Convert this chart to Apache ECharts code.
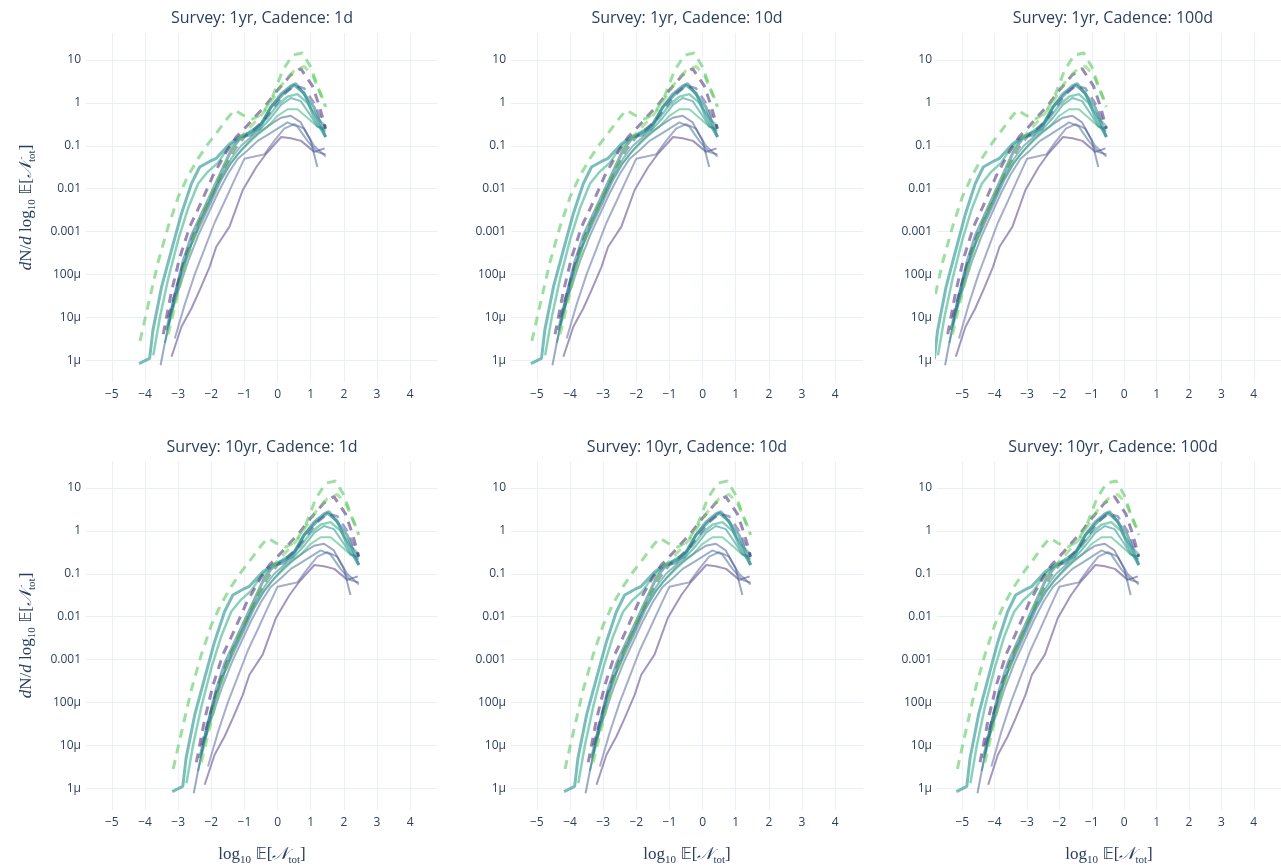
<!DOCTYPE html>
<html><head><meta charset="utf-8">
<script src="https://cdn.jsdelivr.net/npm/echarts@6/dist/echarts.min.js"></script>
<style>html,body{margin:0;padding:0;background:#fff}#c{width:1281px;height:868px}</style>
</head><body><div id="c"></div>
<script>
// ---- panel info ----
const panelTitles = ['Survey: 1yr, Cadence: 1d','Survey: 1yr, Cadence: 10d','Survey: 1yr, Cadence: 100d',
                     'Survey: 10yr, Cadence: 1d','Survey: 10yr, Cadence: 10d','Survey: 10yr, Cadence: 100d'];
// horizontal shift (in log10 E[N_tot]) of the curve family in each panel
const panelShift = [0, -1, -2, 1, 0, -1];
const xTicks = [-5,-4,-3,-2,-1,0,1,2,3,4];
const xTickLabels = ['\u22125','\u22124','\u22123','\u22122','\u22121','0','1','2','3','4'];
const yTicks = [-6,-5,-4,-3,-2,-1,0,1]; // log10 positions
const yTickLabels = ['1\u00b5','10\u00b5','100\u00b5','0.001','0.01','0.1','1','10'];

// ---- curves (x = log10 E[N_tot] in the 1yr/1d panel, v = dN/dlog10 E[N_tot]) ----
const c1x = [-4.15,-3.9,-3.6,-3.3,-3.0,-2.7,-2.4,-2.1,-1.8,-1.5,-1.3,-1.05,-0.75,-0.45,-0.15,0.15,0.45,0.75,1.0,1.2,1.45];
const c1v = [2.8e-6,2.0e-5,2.0e-4,1.3e-3,6.3e-3,0.02,0.05,0.11,0.22,0.45,0.68,0.52,0.42,0.56,1.4,5.6,13,14.5,6.9,2.5,0.8];
const c2x = [-3.3,-3.05,-2.8,-2.5,-2.2,-1.9,-1.6,-1.3,-1.0,-0.7,-0.4,-0.1,0.2,0.5,0.8,1.05,1.25,1.45];
const c2v = [4.0e-6,2.5e-5,1.6e-4,7.9e-4,3.2e-3,0.011,0.035,0.1,0.2,0.35,0.63,1.4,3.2,5.6,7.1,4.5,2.0,0.89];
const c3x = [-3.45,-3.2,-2.95,-2.65,-2.35,-1.95,-1.55,-1.25,-1.0,-0.65,-0.35,0,0.4,0.7,1.05,1.27,1.45];
const c3v = [4.0e-6,4.0e-5,2.5e-4,1.3e-3,4.0e-3,0.02,0.071,0.16,0.25,0.5,0.89,2.0,4.5,6.3,2.5,0.8,0.25];
const c4x = [-3.3,-3.05,-2.8,-2.5,-2.2,-1.9,-1.6,-1.3,-1.0,-0.7,-0.4,-0.1,0.2,0.5,0.8,1.1,1.45];
const c4v = [1.0e-5,5.0e-5,2.5e-4,1.0e-3,3.2e-3,0.01,0.032,0.079,0.16,0.25,0.4,0.8,1.6,2.5,2.2,1.0,0.25];
const c5x = [-4.18,-3.86,-3.76,-3.5,-3.2,-2.9,-2.6,-2.35,-2.05,-1.85,-1.45,-1.15,-0.85,-0.55,-0.2,0.2,0.5,0.8,1.1,1.45];
const c5v = [8.3e-7,1.1e-6,5.0e-6,5.1e-5,3.7e-4,2.6e-3,0.013,0.032,0.043,0.051,0.11,0.16,0.2,0.25,0.8,1.7,2.6,1.7,0.48,0.16];
const c6x = [-3.75,-3.55,-3.3,-3.0,-2.7,-2.4,-2.1,-1.8,-1.5,-1.2,-0.9,-0.6,-0.3,0,0.3,0.6,0.9,1.2,1.45];
const c6v = [1.3e-6,1.0e-5,7.9e-5,6.3e-4,3.5e-3,0.013,0.025,0.04,0.089,0.14,0.2,0.28,0.45,0.89,1.4,1.6,1.0,0.45,0.28];
const c7x = [-3.35,-3.1,-2.85,-2.6,-2.3,-2.0,-1.7,-1.4,-1.1,-0.8,-0.5,-0.2,0.1,0.4,0.55,0.8,1.1,1.45];
const c7v = [5.0e-6,3.2e-5,2.0e-4,7.9e-4,2.5e-3,7.9e-3,0.025,0.079,0.16,0.18,0.32,0.8,1.6,2.5,2.8,1.6,0.8,0.16];
const c8x = [-3.53,-3.35,-3.15,-2.9,-2.6,-2.3,-2.0,-1.7,-1.4,-1.1,-0.8,-0.5,-0.2,0.1,0.4,0.7,1.0,1.2];
const c8v = [7.6e-7,4.0e-6,2.5e-5,1.3e-4,5.0e-4,1.6e-3,5.0e-3,0.016,0.04,0.079,0.14,0.22,0.32,0.45,0.5,0.35,0.13,0.032];
const c9x = [-3.4,-3.15,-2.9,-2.6,-2.3,-2.0,-1.7,-1.4,-1.1,-0.8,-0.5,-0.2,0.1,0.4,0.7,1.0,1.2,1.45];
const c9v = [2.5e-6,1.6e-5,1.0e-4,5.0e-4,2.0e-3,6.3e-3,0.02,0.05,0.1,0.16,0.25,0.45,0.89,1.3,1.1,0.5,0.28,0.25];
const c10x = [-3.3,-3.0,-2.7,-2.4,-2.1,-1.8,-1.5,-1.2,-0.9,-0.6,-0.3,0,0.3,0.6,0.9,1.2,1.45];
const c10v = [6.3e-6,5.0e-5,3.2e-4,1.3e-3,4.0e-3,0.013,0.032,0.063,0.11,0.18,0.28,0.5,0.71,0.71,0.45,0.28,0.22];
const c11x = [-3.25,-3.0,-2.7,-2.4,-2.1,-1.8,-1.5,-1.2,-0.9,-0.6,-0.3,0,0.3,0.6,0.9,1.2,1.45];
const c11v = [1.0e-5,4.0e-5,2.0e-4,7.9e-4,2.5e-3,7.9e-3,0.022,0.05,0.079,0.13,0.18,0.25,0.35,0.28,0.13,0.071,0.063];
const c12x = [-3.2,-2.9,-2.6,-2.35,-2.05,-1.85,-1.45,-1.05,-0.64,-0.34,0.11,0.4,0.71,1.11,1.42];
const c12v = [1.2e-6,6.0e-6,1.6e-5,4.3e-5,1.5e-4,4.4e-4,1.3e-3,9.3e-3,0.032,0.066,0.16,0.15,0.13,0.072,0.087];
const c13x = [-3.1,-2.8,-2.5,-2.2,-1.9,-1.6,-1.3,-1.0,-0.7,-0.4,-0.1,0.2,0.5,0.8,1.1,1.45];
const c13v = [3.2e-6,2.0e-5,1.0e-4,4.0e-4,1.6e-3,5.0e-3,0.016,0.05,0.056,0.063,0.13,0.25,0.32,0.25,0.1,0.056];

// ---- styles ----
const curves = [
  {x:c12x, v:c12v, color:'#472d7b', dash:false, w:2, a:0.5},
  {x:c13x, v:c13v, color:'#3e4a89', dash:false, w:2, a:0.45},
  {x:c11x, v:c11v, color:'#31688e', dash:false, w:2, a:0.5},
  {x:c8x,  v:c8v,  color:'#3b528b', dash:false, w:2, a:0.5},
  {x:c10x, v:c10v, color:'#35b779', dash:false, w:2, a:0.55},
  {x:c9x,  v:c9v,  color:'#21918c', dash:false, w:2, a:0.55},
  {x:c6x,  v:c6v,  color:'#27ad81', dash:false, w:2.5, a:0.55},
  {x:c7x,  v:c7v,  color:'#2c728e', dash:false, w:3, a:0.55},
  {x:c5x,  v:c5v,  color:'#21918c', dash:false, w:3, a:0.6},
  {x:c4x,  v:c4v,  color:'#3e4989', dash:true,  w:2.5, a:0.5},
  {x:c3x,  v:c3v,  color:'#482878', dash:true,  w:3, a:0.55},
  {x:c2x,  v:c2v,  color:'#6ece58', dash:true,  w:3, a:0.55},
  {x:c1x,  v:c1v,  color:'#5ec962', dash:true,  w:3, a:0.6}
];

const TXT = '#2a3f5f', GRIDC = '#EBF0F8';
const colLeft = [86, 511, 937], rowTop = [33, 461], W = 352, H = 349;
const xMin = -5.78, xMax = 4.84, yMin = -6.51, yMax = 1.63;

const grids = [], xAxes = [], yAxes = [], series = [], graphics = [];
const mathRich = {
  i: {fontFamily:'Liberation Serif, DejaVu Serif, serif', fontStyle:'italic', fontSize:17, color:TXT, lineHeight:22},
  r: {fontFamily:'Liberation Serif, DejaVu Serif, serif', fontSize:17, color:TXT, lineHeight:22},
  m: {fontFamily:'DejaVu Sans, DejaVu Serif, serif', fontSize:15, color:TXT, lineHeight:22},
  s: {fontFamily:'Liberation Serif, DejaVu Serif, serif', fontSize:11, color:TXT, lineHeight:22, verticalAlign:'bottom'}
};
for (let p = 0; p < 6; p++) {
  const r = Math.floor(p / 3), c = p % 3;
  grids.push({left: colLeft[c], top: rowTop[r], width: W, height: H, containLabel: false});
  xAxes.push({
    type:'value', gridIndex:p, min:xMin, max:xMax,
    axisLine:{show:false}, axisTick:{show:false, customValues:xTicks},
    axisLabel:{customValues:xTicks, color:TXT, fontSize:12, fontFamily:'Open Sans', margin:7,
      formatter: v => xTickLabels[xTicks.indexOf(Math.round(v))]},
    splitLine:{show:true, lineStyle:{color:GRIDC, width:1}},
    name: r === 1 ? '{r|log}{s|10}{m| \ud835\udd3c}{r|[}{i|\ud835\udca9}{s|tot}{r|]}' : '',
    nameLocation:'middle', nameGap:34, nameTextStyle:{rich:mathRich}
  });
  yAxes.push({
    type:'value', gridIndex:p, min:yMin, max:yMax,
    axisLine:{show:false}, axisTick:{show:false, customValues:yTicks},
    axisLabel:{customValues:yTicks, color:TXT, fontSize:12, fontFamily:'Open Sans', margin:5,
      formatter: v => yTickLabels[yTicks.indexOf(Math.round(v))]},
    splitLine:{show:true, lineStyle:{color:GRIDC, width:1}},
    name: c === 0 ? '{i|d}{r|N/}{i|d}{r| log}{s|10}{m| \ud835\udd3c}{r|[}{i|\ud835\udca9}{s|tot}{r|]}' : '',
    nameLocation:'middle', nameRotate:90, nameGap:48, nameTextStyle:{rich:mathRich}
  });
  graphics.push({type:'text', x: colLeft[c] + W/2, y: (r === 0 ? 18 : 447),
    style:{text: panelTitles[p], fill: TXT, font: '16px "Open Sans"', textAlign:'center', textVerticalAlign:'middle'}});
  curves.forEach(cv => {
    series.push({
      type:'line', xAxisIndex:p, yAxisIndex:p, showSymbol:false, symbol:'none', silent:true,
      clip:true, animation:false,
      lineStyle:{color:cv.color, width:cv.w, type: cv.dash ? [9,7] : 'solid', opacity:cv.a},
      data: cv.x.map((x, i) => [x + panelShift[p], Math.log10(cv.v[i])])
    });
  });
}

const chart = echarts.init(document.getElementById('c'), null, {renderer:'canvas'});
chart.setOption({
  backgroundColor:'#ffffff', animation:false,
  grid:grids, xAxis:xAxes, yAxis:yAxes, series:series, graphic:graphics
});
</script></body></html>
